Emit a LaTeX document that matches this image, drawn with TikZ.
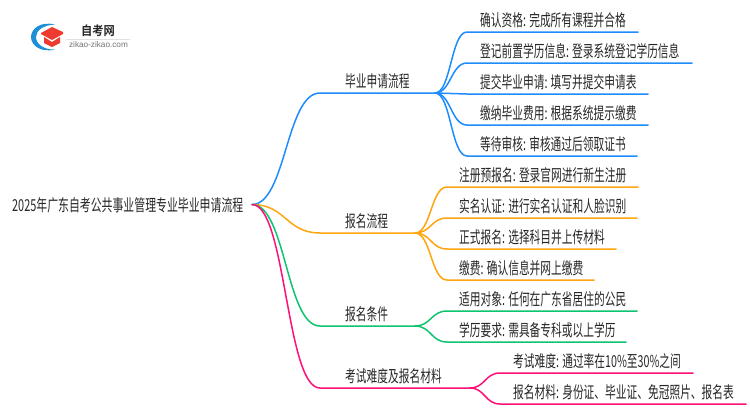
\documentclass[tikz,border=0pt]{standalone}
\usepackage{fontspec}
\setmainfont{Liberation Sans}
\newfontfamily\cjk[FakeStretch=0.65]{Noto Sans CJK SC}
\newfontfamily\cjkr[FakeStretch=0.66]{Noto Sans CJK SC}
\newfontfamily\cjkb[FakeStretch=0.9]{Noto Sans CJK SC Bold}
\definecolor{cblue}{HTML}{1E8CFF}
\definecolor{corange}{HTML}{FFA50F}
\definecolor{cgreen}{HTML}{0FC46E}
\definecolor{cpink}{HTML}{FF0F78}
\definecolor{logored}{HTML}{EE3B30}
\definecolor{logoblue}{HTML}{1E90D8}
\usetikzlibrary{calc}
\tikzset{
 x=1pt,y=-1pt,
 lbl/.style={inner sep=0pt,anchor=base west,text=black!85,font=\cjk\fontsize{16.5}{16.5}\selectfont},
 wire/.style={line width=1.5pt,line cap=round},
 curve/.style={to path={.. controls ($(\tikztostart)!.5!(\tikztotarget |- \tikztostart)$) and ($(\tikztotarget)!.5!(\tikztostart |- \tikztotarget)$) .. (\tikztotarget)}}
}
\begin{document}
\begin{tikzpicture}
\useasboundingbox (0,0) rectangle (750,410);
% logo
\fill[logoblue] (55,24.5) .. controls (40,21) and (31,29) .. (31,37) .. controls (31,45) and (40,53) .. (55,49.5) .. controls (44,50) and (36,44) .. (36,37) .. controls (36,30) and (44,25) .. (55,24.5) -- cycle;
\fill[logored] (41,33) -- (52,27) -- (63,32) -- (63,34) -- (52,40) -- (41,34) -- cycle;
\fill[logored] (44,37) -- (52,42) -- (60,37) -- (60,43) -- (52,47) -- (44,43) -- cycle;
\node[inner sep=0pt,text=black!85,font=\cjkb\fontsize{12.5}{12.5}\selectfont] (logot) at (98,30.5) {自考网};
\draw[black!12,line width=.6pt] (66,39.5) -- (130,39.5);
\node[inner sep=0pt,text=black!55,font=\fontsize{8.2}{8.2}\selectfont] (logou) at (98.5,45) {zikao-zikao.com};
% root
\coordinate (root) at (252,204.5);
\node[lbl,font=\cjkr\fontsize{16.5}{16.5}\selectfont] (rootl) at (12,211) {2025年广东自考公共事业管理专业毕业申请流程};
% level 1
\foreach \n/\c/\y/\e/\t in {a/cblue/93/435/毕业申请流程,b/corange/233/415/报名流程,c/cgreen/326/415/报名条件,d/cpink/388/470/考试难度及报名材料}{
 \coordinate (\n s) at (320,\y);
 \coordinate (\n) at (\e,\y);
 \draw[wire,\c] (root) to[curve] (\n s) -- (\n);
 \node[lbl] (\n l) at (345,\y-6) {\t};
}
% level 2
\foreach \p/\c/\sx/\tx/\items in {a/cblue/467/480/{32/638/确认资格: 完成所有课程并合格,63/692/登记前置学历信息: 登录系统登记学历信息,94/648/提交毕业申请: 填写并提交申请表,125/648/缴纳毕业费用: 根据系统提示缴费,156/637/等待审核: 审核通过后领取证书},
 b/corange/447/459/{187/638/注册预报名: 登录官网进行新生注册,218/637/实名认证: 进行实名认证和人脸识别,249/616/正式报名: 选择科目并上传材料,280/594/缴费: 确认信息并网上缴费},
 c/cgreen/447/459/{311/637/适用对象: 任何在广东省居住的公民,342/626/学历要求: 需具备专科或以上学历},
 d/cpink/500/513/{373/693/考试难度: 通过率在10\%至30\%之间,404/746/报名材料: 身份证、毕业证、免冠照片、报名表}}{
 \foreach \y/\e/\t in \items {
  \coordinate (\p\y s) at (\sx,\y);
  \coordinate (\p\y e) at (\e,\y);
  \draw[wire,\c] (\p) to[curve] (\p\y s) -- (\p\y e);
  \node[lbl] (\p\y l) at (\tx,\y-6) {\t};
 }
}
\end{tikzpicture}
\end{document}
